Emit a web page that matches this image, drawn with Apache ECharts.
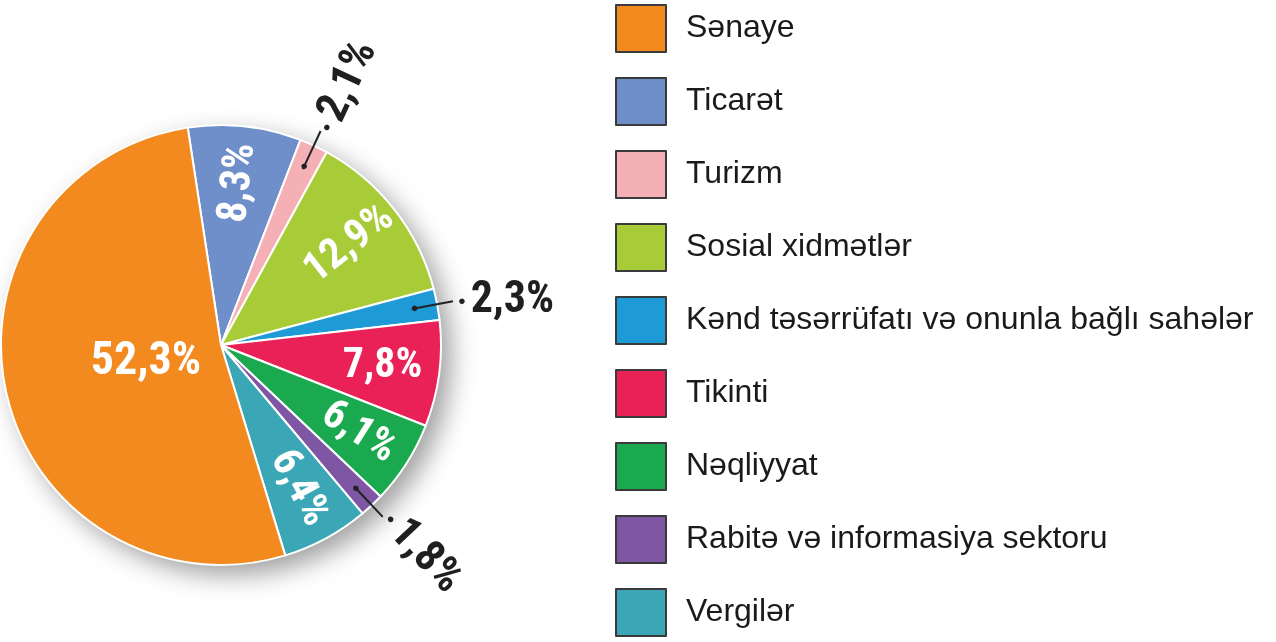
<!DOCTYPE html>
<html lang="az">
<head>
    <meta charset="UTF-8">
    <title>Sahələr üzrə bölgü</title>
    <style>
        html, body { margin: 0; padding: 0; background: #fff; }
    </style>
</head>
<body>
<div id="echart" style="width: 1276px; height: 642px;"></div>

<script src="https://cdn.jsdelivr.net/npm/echarts@6/dist/echarts.min.js"></script>
<script>
    // sahələr (legend sırası)
    var sectors = ['Sənaye', 'Ticarət', 'Turizm', 'Sosial xidmətlər',
        'Kənd təsərrüfatı və onunla bağlı sahələr', 'Tikinti', 'Nəqliyyat',
        'Rabitə və informasiya sektoru', 'Vergilər'];
    // faiz payları
    var shares = [52.3, 8.3, 2.1, 12.9, 2.3, 7.8, 6.1, 1.8, 6.4];
    var palette = ['#f28a20', '#6f8fcb', '#f4b0b5', '#a8cc38', '#1e9ad6',
        '#ea2157', '#1ba94f', '#7e56a3', '#3ba7b6'];

    // dairədə saat əqrəbi istiqamətində sıra (Ticarətdən başlayır)
    var pieOrder = [1, 2, 3, 4, 5, 6, 7, 8, 0];
    // etiket qrupları
    var bigLabel = ['Sənaye'];
    var outerLabels = ['Turizm', 'Kənd təsərrüfatı və onunla bağlı sahələr', 'Rabitə və informasiya sektoru'];
    var flatLabels = ['Tikinti', 'Kənd təsərrüfatı və onunla bağlı sahələr', 'Sənaye'];

    var NARROW = '"Liberation Sans Narrow", "Roboto Condensed", "Liberation Sans", Arial, sans-serif';
    var PLAIN = '"Liberation Sans", Arial, Helvetica, sans-serif';

    function pct(v) {
        return String(v).replace('.', ',') + '%';
    }

    // bir sıra üçün data, etiket yalnız seçilmiş adlarda
    function buildData(showList, transparent) {
        return pieOrder.map(function (i) {
            var name = sectors[i];
            var item = {name: name, value: shares[i]};
            if (transparent) {
                item.itemStyle = {color: 'rgba(0,0,0,0)', borderWidth: 0};
            } else {
                item.itemStyle = {color: palette[i]};
            }
            var on = showList.indexOf(name) >= 0;
            item.label = {show: on};
            if (on && flatLabels.indexOf(name) >= 0) item.label.rotate = 0;
            if (!on) item.labelLine = {show: false};
            return item;
        });
    }

    var total = shares.reduce(function (a, b) { return a + b; }, 0);
    var innerNames = sectors.filter(function (n) {
        return bigLabel.indexOf(n) < 0 && outerLabels.indexOf(n) < 0;
    });

    var dom = document.getElementById('echart');
    var myChart = echarts.init(dom);

    var center = [221, 345];
    var R = 220;
    var START = 98.7;

    var overlayBase = {
        type: 'pie',
        z: 5,
        center: center,
        startAngle: START,
        clockwise: true,
        silent: true,
        animation: false,
        avoidLabelOverlap: false,
        emphasis: {disabled: true},
        tooltip: {show: false}
    };

    var option = {
        backgroundColor: '#fff',
        legend: {
            orient: 'vertical',
            left: 615,
            top: 4,
            bottom: 0,
            padding: 0,
            icon: 'rect',
            itemWidth: 50,
            itemHeight: 47,
            itemGap: 24,
            selectedMode: false,
            data: sectors,
            itemStyle: {borderColor: '#3a3a3a', borderWidth: 2},
            textStyle: {fontSize: 32, color: '#1a1a1a', fontFamily: PLAIN, padding: [0, 0, 0, 15]}
        },
        series: [
            // kölgə diski
            Object.assign({}, overlayBase, {
                z: 1,
                radius: R,
                data: [{name: 'kölgə', value: total}],
                itemStyle: {
                    color: '#eeeeee',
                    shadowColor: 'rgba(0,0,0,0.38)',
                    shadowBlur: 26,
                    shadowOffsetX: 10,
                    shadowOffsetY: 10
                },
                label: {show: false},
                labelLine: {show: false}
            }),
            // əsas dairə
            {
                type: 'pie',
                z: 2,
                center: center,
                radius: R,
                startAngle: START,
                clockwise: true,
                animation: false,
                avoidLabelOverlap: false,
                data: buildData([], false),
                itemStyle: {borderColor: '#fff', borderWidth: 2},
                label: {show: false},
                labelLine: {show: false}
            },
            // daxili etiketlər
            Object.assign({}, overlayBase, {
                radius: [100, R],
                data: buildData(innerNames, true),
                label: {
                    position: 'inside',
                    rotate: 'radial',
                    color: '#fff',
                    fontSize: 42,
                    fontWeight: 'bold',
                    fontFamily: NARROW,
                    formatter: function (p) { return pct(p.value); }
                },
                labelLine: {show: false}
            }),
            // Sənaye etiketi
            Object.assign({}, overlayBase, {
                radius: [0, 148],
                data: buildData(bigLabel, true),
                label: {
                    position: 'inside',
                    color: '#fff',
                    fontSize: 46,
                    fontWeight: 'bold',
                    fontFamily: NARROW,
                    formatter: function (p) { return pct(p.value); }
                },
                labelLine: {show: false}
            }),
            // xətlərin daxili nöqtələri
            Object.assign({}, overlayBase, {
                radius: [190, 198],
                data: buildData(outerLabels, true),
                label: {
                    position: 'inside',
                    color: '#222',
                    fontSize: 13,
                    formatter: '●'
                },
                labelLine: {show: false}
            }),
            // xarici etiketlər
            Object.assign({}, overlayBase, {
                radius: 194,
                data: buildData(outerLabels, true),
                label: {
                    position: 'outside',
                    rotate: 'radial',
                    color: '#1f1f1f',
                    fontSize: 44,
                    fontWeight: 'bold',
                    fontFamily: NARROW,
                    formatter: function (p) { return '{d|●}' + pct(p.value); },
                    rich: {
                        d: {fontSize: 13, color: '#222', padding: [0, 5, 0, 0]}
                    }
                },
                labelLine: {
                    show: true,
                    showAbove: true,
                    length: 42,
                    length2: 0,
                    lineStyle: {color: '#222', width: 2}
                }
            })
        ]
    };

    myChart.setOption(option);
</script>
</body>
</html>
